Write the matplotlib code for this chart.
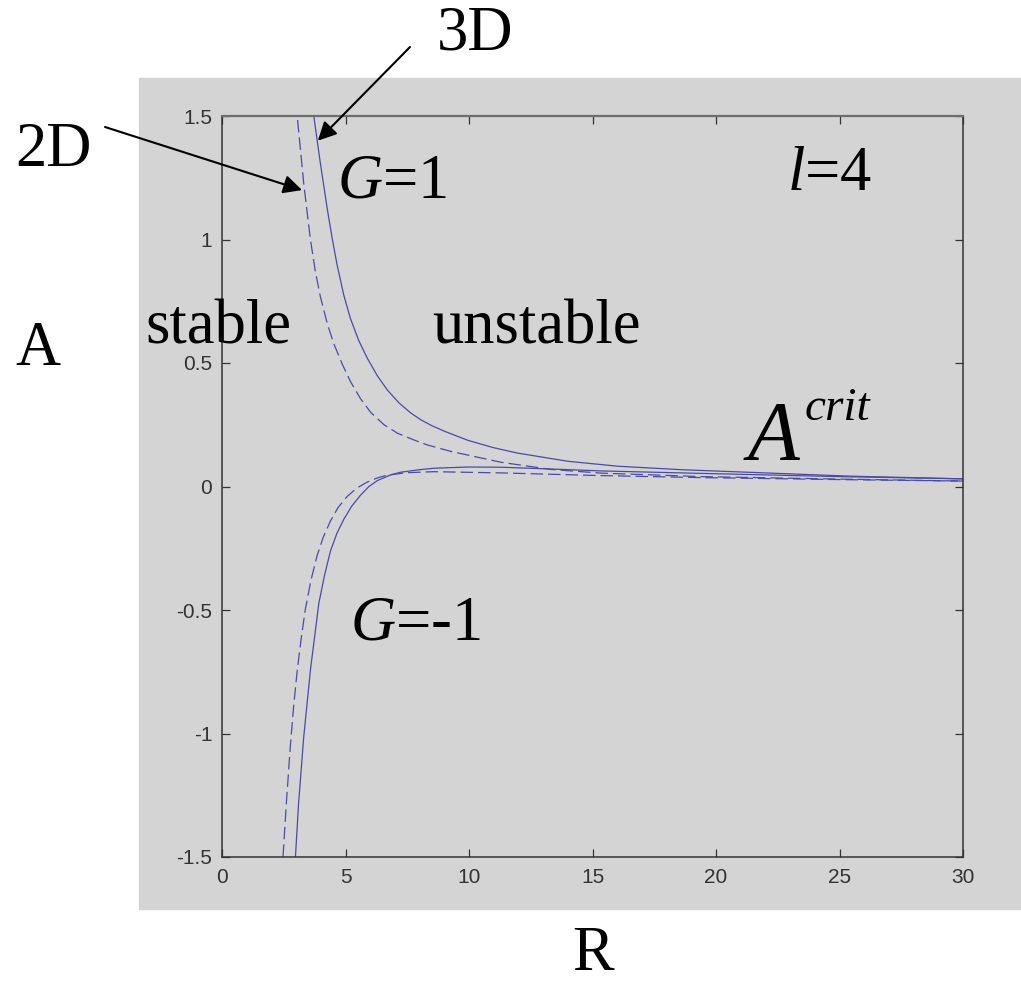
import matplotlib.pyplot as plt
from matplotlib.patches import Rectangle

# critical amplitude curves, l=4, G=+1 (upper) and G=-1 (lower)
r_pos_3d = [3.71, 3.98, 4.26, 4.46, 4.66, 4.93, 5.20, 5.54, 5.88, 6.29, 6.70, 7.17, 7.64,
            8.05, 8.46, 9.0, 9.95, 11.0, 11.98, 14.01, 16.04, 18.6, 22.0, 25.4, 30.0]
a_pos_3d = [1.504, 1.310, 1.125, 1.005, 0.897, 0.775, 0.680, 0.590, 0.520, 0.448, 0.390, 0.338, 0.298,
            0.270, 0.248, 0.224, 0.187, 0.157, 0.135, 0.102, 0.082, 0.068, 0.055, 0.042, 0.031]

r_pos_2d = [3.06, 3.31, 3.58, 3.78, 3.98, 4.26, 4.52, 4.87, 5.20, 5.61, 6.02, 6.56,
            7.10, 7.78, 8.32, 9.27, 11.3, 13.33, 15.37, 19.43, 25.0, 30.0]
a_pos_2d = [1.484, 1.225, 1.000, 0.870, 0.770, 0.660, 0.580, 0.495, 0.425, 0.355, 0.300, 0.250,
            0.216, 0.188, 0.168, 0.142, 0.098, 0.069, 0.054, 0.040, 0.030, 0.022]

r_neg_3d = [2.97, 3.10, 3.31, 3.58, 3.92, 4.15, 4.39, 4.65, 4.93, 5.25, 5.61, 5.95, 6.29,
            6.83, 7.24, 8.0, 8.58, 10.0, 11.3, 13.0, 15.37, 19.43, 25.0, 30.0]
a_neg_3d = [-1.505, -1.283, -1.013, -0.743, -0.473, -0.360, -0.262, -0.190, -0.133, -0.080, -0.035, 0.0, 0.024,
            0.047, 0.058, 0.068, 0.074, 0.079, 0.078, 0.072, 0.063, 0.053, 0.040, 0.031]

r_neg_2d = [2.47, 2.60, 2.76, 2.90, 3.04, 3.20, 3.37, 3.60, 3.85, 4.10, 4.39, 4.70, 5.07,
            5.45, 5.88, 6.29, 6.69, 7.5, 8.58, 11.3, 15.4, 19.43, 25.0, 30.0]
a_neg_2d = [-1.499, -1.290, -1.060, -0.890, -0.750, -0.620, -0.500, -0.380, -0.280, -0.205, -0.140, -0.085, -0.040,
            -0.007, 0.018, 0.035, 0.046, 0.056, 0.060, 0.055, 0.044, 0.036, 0.028, 0.022]

x_ticks = [0, 5, 10, 15, 20, 25, 30]
y_ticks = [-1.5, -1, -0.5, 0, 0.5, 1, 1.5]
y_tick_labels = ["-1.5", "-1", "-0.5", "0", "0.5", "1", "1.5"]

W, H = 1021, 985
GRAY = "#d4d4d4"
LINE = "#4a4aa8"
SERIF = "Liberation Serif"

plt.rcParams["mathtext.fontset"] = "custom"
plt.rcParams["mathtext.rm"] = SERIF
plt.rcParams["mathtext.it"] = SERIF + ":italic"


def fpos(x, y):
    # pixel position measured from the top-left -> figure fraction
    return x / W, 1 - y / H


fig = plt.figure(figsize=(W / 100, H / 100), dpi=100, facecolor="white")
fig.patches.append(Rectangle(fpos(139, 909), (W - 139) / W, (909 - 78) / H,
                             transform=fig.transFigure, color=GRAY, zorder=-10))

l, b = fpos(222, 857)
ax = fig.add_axes([l, b, (963 - 222) / W, (857 - 116) / H], facecolor=GRAY)
ax.set_zorder(1)

ax.plot(r_pos_3d, a_pos_3d, color=LINE, lw=0.9)
ax.plot(r_neg_3d, a_neg_3d, color=LINE, lw=0.9)
ax.plot(r_pos_2d, a_pos_2d, color=LINE, lw=0.9, ls=(0, (10, 4)))
ax.plot(r_neg_2d, a_neg_2d, color=LINE, lw=0.9, ls=(0, (10, 4)))

ax.set_xlim(0, 30)
ax.set_ylim(-1.5, 1.5)
ax.set_xticks(x_ticks)
ax.set_xticklabels([str(t) for t in x_ticks])
ax.set_yticks(y_ticks)
ax.set_yticklabels(y_tick_labels)
ax.tick_params(direction="in", length=6, width=0.9, color="#333333",
               top=True, right=True, labelcolor="#333333", labelsize=15)
ax.tick_params(axis="x", pad=8)
ax.tick_params(axis="y", pad=7)
for lab in ax.get_xticklabels() + ax.get_yticklabels():
    lab.set_fontfamily("Liberation Sans")
for sp in ax.spines.values():
    sp.set_color("#333333")
    sp.set_linewidth(1.1)
ax.spines["top"].set_color("#6e6e6e")
ax.spines["top"].set_linewidth(1.6)


def label(x, y, s, size=45, style="normal"):
    fig.text(*fpos(x, y), s, fontsize=size, family=SERIF, style=style,
             ha="left", va="baseline", color="black", zorder=5)


label(15, 166, "2D")
label(437, 50, "3D")
label(15, 365, "A")
label(572, 970, "R")
label(145, 343, "stable")
label(432, 343, "unstable")
label(748, 460, "A", size=61, style="italic")
label(805, 420, "crit", size=34, style="italic")

# G=1, G=-1 and l=4 with the italic symbol
label(337, 198, r"$G$=1")
label(350, 640, r"$G$=-1")
label(787, 190, r"$l$=4")

arrow = dict(arrowstyle="-|>", mutation_scale=28, color="black", lw=1.5,
             shrinkA=0, shrinkB=0)
ax.annotate("", xy=(3.24, 1.20), xycoords="data",
            xytext=(105, H - 127), textcoords="figure pixels",
            arrowprops=arrow, annotation_clip=False)
ax.annotate("", xy=(3.88, 1.40), xycoords="data",
            xytext=(410, H - 47), textcoords="figure pixels",
            arrowprops=arrow, annotation_clip=False)

fig.savefig("out.png", dpi=100, facecolor="white")
